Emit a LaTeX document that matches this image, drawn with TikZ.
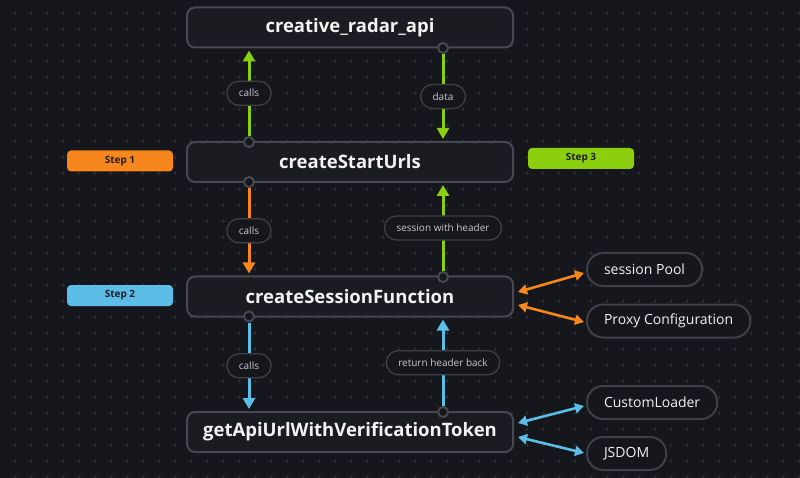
\documentclass[tikz,border=0pt]{standalone}
\usepackage{fontspec}
\setmainfont{Open Sans}
\usetikzlibrary{arrows.meta,calc}
\definecolor{bg}{HTML}{16171C}
\definecolor{boxfill}{HTML}{1B1C22}
\definecolor{boxline}{HTML}{474952}
\definecolor{pillline}{HTML}{3E4048}
\definecolor{gridc}{HTML}{2A2C33}
\definecolor{cgreen}{HTML}{8CCF0E}
\definecolor{corange}{HTML}{F7861C}
\definecolor{cblue}{HTML}{5CBDE6}
\definecolor{txt}{HTML}{F2F2F2}
\definecolor{pilltxt}{HTML}{C9CACE}
\definecolor{steptxt}{HTML}{1E1F24}
\tikzset{
  mainbox/.style={draw=boxline, line width=2pt, fill=boxfill, rounded corners=8pt,
    minimum width=326pt, minimum height=40pt, text=txt, font=\fontsize{18.5}{21}\selectfont\bfseries, inner sep=0pt},
  port/.style={circle, draw=boxline, line width=2pt, fill=bg, minimum size=10pt, inner sep=0pt},
  pill/.style={draw=pillline, line width=1.3pt, fill=bg, rounded corners=12pt,
    minimum height=24pt, inner xsep=12pt, text=pilltxt, font=\fontsize{10}{12}\selectfont},
  sidebox/.style={draw=pillline, line width=2pt, fill=bg, rounded corners=16pt,
    minimum height=33pt, inner xsep=17pt, text=txt, font=\fontsize{14}{16}\selectfont, anchor=west},
  stepbox/.style={rounded corners=4pt, minimum width=106pt, minimum height=21pt, inner sep=0pt,
    text=steptxt, font=\fontsize{10}{12}\selectfont\bfseries},
  flow/.style={line width=3pt, -{Triangle[width=12pt,length=11pt]}},
  dbl/.style={line width=2.6pt, {Triangle[width=10pt,length=9pt]}-{Triangle[width=10pt,length=9pt]}}
}
\begin{document}
\begin{tikzpicture}[x=1pt,y=-1pt]
\fill[bg] (0,0) rectangle (800,478);
\useasboundingbox (0,0) rectangle (800,478);
% grid of plus marks
\foreach \i in {0,...,49}{
  \foreach \j in {0,...,29}{
    \draw[gridc, line width=0.6pt] ({15+16*\i-2},{13+16*\j}) -- ({15+16*\i+2},{13+16*\j})
      ({15+16*\i},{13+16*\j-2}) -- ({15+16*\i},{13+16*\j+2});
  }
}
% main boxes
\node[mainbox] (api) at (350,27.5) {creative\_radar\_api};
\node[mainbox] (su) at (350,162) {createStartUrls};
\node[mainbox] (sf) at (350,296.5) {createSessionFunction};
\node[mainbox] (gt) at (350,432) {getApiUrlWithVerificationToken};
% ports
\node[port] (p1) at (443,48) {};
\node[port] (p2) at (249,142) {};
\node[port] (p3) at (249,182) {};
\node[port] (p4) at (443,277) {};
\node[port] (p5) at (249,316.5) {};
\node[port] (p6) at (443,412) {};
% vertical flows
\draw[flow, cgreen] (p2.north) -- ($(p2 |- api.south)+(0,2)$) node[pill, midway] {calls};
\draw[flow, cgreen] (p1.south) -- ($(p1 |- su.north)+(0,-2)$) node[pill, midway] {data};
\draw[flow, corange] (p3.south) -- ($(p3 |- sf.north)+(0,-2)$) node[pill, midway] {calls};
\draw[flow, cgreen] (p4.north) -- ($(p4 |- su.south)+(0,2)$) node[pill, midway] {session with header};
\draw[flow, cblue] (p5.south) -- ($(p5 |- gt.north)+(0,-2)$) node[pill, midway] {calls};
\draw[flow, cblue] (p6.north) -- ($(p6 |- sf.south)+(0,2)$) node[pill, midway] {return header back};
% step labels
\node[stepbox, fill=corange] (s1) at (120,161) {Step 1};
\node[stepbox, fill=cblue] (s2) at (120,295.5) {Step 2};
\node[stepbox, fill=cgreen] (s3) at (581,158.5) {Step 3};
% side nodes
\node[sidebox] (pool) at (586,269.5) {session Pool};
\node[sidebox] (proxy) at (586,321) {Proxy Configuration};
\node[sidebox] (cl) at (586,402.5) {CustomLoader};
\node[sidebox] (js) at (586,453.5) {JSDOM};
% side connectors
\draw[dbl, corange] ($(sf.east)+(4,-4.5)$) -- ($(pool.west)+(-2,3.5)$);
\draw[dbl, corange] ($(sf.east)+(4,8.5)$) -- ($(proxy.west)+(-2,1)$);
\draw[dbl, cblue] ($(gt.east)+(4,-9)$) -- ($(cl.west)+(-2,3.5)$);
\draw[dbl, cblue] ($(gt.east)+(4,5)$) -- ($(js.west)+(-2,-0.5)$);
\end{tikzpicture}
\end{document}
